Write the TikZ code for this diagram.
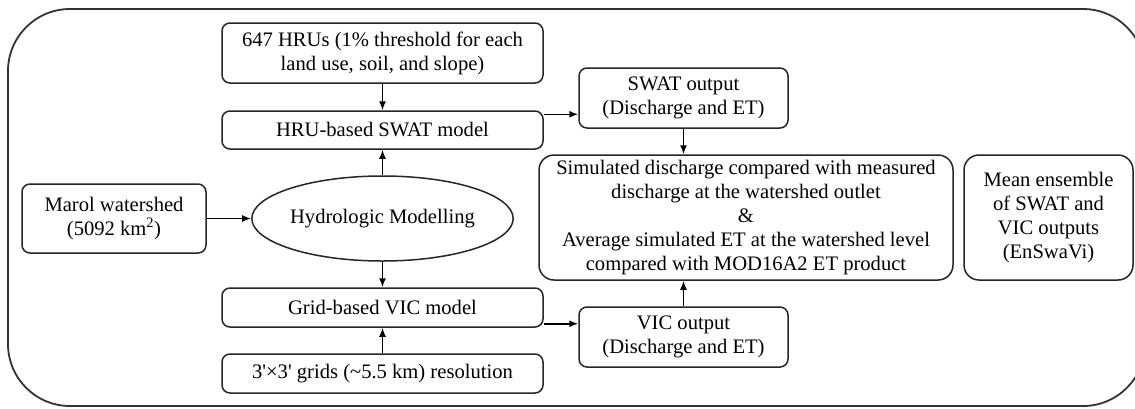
\documentclass[tikz,border=0pt]{standalone}
\usepackage{fontspec}
\setmainfont{Liberation Serif}
\newfontfamily\plainserif{Liberation Serif}[Ligatures=TeXOff]
\usetikzlibrary{shapes.geometric,arrows.meta}
\begin{document}
\begin{tikzpicture}[x=1pt,y=-1pt,
  every node/.style={font=\fontsize{20.6}{24}\selectfont, align=center, inner sep=0pt},
  box/.style={draw=black!85, line width=1.5pt, rounded corners=8pt},
  bigbox/.style={draw=black!85, line width=1.5pt, rounded corners=15pt},
  oval/.style={draw=black!85, line width=1.5pt, ellipse},
  arr/.style={draw=black, line width=1.5pt, -{Latex[length=9pt,width=7pt]}},
  frame/.style={draw=black!80, line width=1.8pt, rounded corners=62pt}]
\clip (0,0) rectangle (1135,408);
\fill[white] (0,0) rectangle (1135,408);
% outer frame
\draw[frame] (8,9) rectangle (1145,406);

% left column
\node[box, minimum width=184pt, minimum height=69pt] (marol) at (114,218.5)
  {Marol watershed\\(5092 km\textsuperscript{2})};

% central column
\node[box, minimum width=321pt, minimum height=60pt] (hru) at (382.5,53)
  {647 HRUs (1\% threshold for each\\land use, soil, and slope)};
\node[box, minimum width=321pt, minimum height=38pt] (swat) at (382.5,130)
  {HRU-based SWAT model};
\node[oval, minimum width=251pt, minimum height=85pt] (hydro) at (382.5,218.5)
  {Hydrologic Modelling};
\node[box, minimum width=321pt, minimum height=39pt] (vic) at (382.5,307.5)
  {Grid-based VIC model};
\node[box, minimum width=321pt, minimum height=39pt] (grid) at (382.5,373.5)
  {{\plainserif 3'×3'} grids (\textasciitilde 5.5 km) resolution};

% outputs
\node[box, minimum width=209pt, minimum height=60pt] (swatout) at (683.5,98)
  {SWAT output\\(Discharge and ET)};
\node[box, minimum width=209pt, minimum height=60pt] (vicout) at (683.5,337)
  {VIC output\\(Discharge and ET)};

% evaluation
\node[bigbox, minimum width=414pt, minimum height=125pt] (sim) at (746,217.5)
  {Simulated discharge compared with measured\\discharge at the watershed outlet\\\&\\Average simulated ET at the watershed level\\compared with MOD16A2 ET product};
\node[bigbox, minimum width=169pt, minimum height=125pt] (ens) at (1048.5,217.5)
  {Mean ensemble\\of SWAT and\\VIC outputs\\(EnSwaVi)};

% connectors
\draw[arr] (hru.south) -- (swat.north);
\draw[arr] (hydro.north) -- (swat.south);
\draw[arr] (hydro.south) -- (vic.north);
\draw[arr] (grid.north) -- (vic.south);
\draw[arr] (marol.east) -- (hydro.west);
\draw[arr] ([yshift=-4pt]swat.north east) -- ([yshift=-4pt]swat.north east -| swatout.west);
\draw[arr] ([yshift=4pt]vic.south east) -- ([yshift=4pt]vic.south east -| vicout.west);
\draw[arr] (swatout.south) -- (swatout.south |- sim.north);
\draw[arr] (vicout.north) -- (vicout.north |- sim.south);
\end{tikzpicture}
\end{document}
